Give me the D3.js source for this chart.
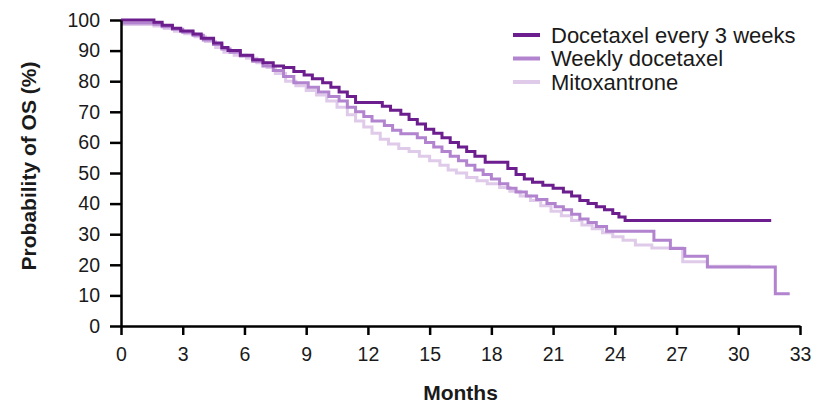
<!DOCTYPE html>
<html>
<head>
<meta charset="utf-8">
<script src="https://cdn.jsdelivr.net/npm/d3@7"></script>
<style>
  body { margin: 0; background: #fff; }
  svg text { font-family: "Liberation Sans", Arial, sans-serif; fill: #1a1a1a; }
</style>
</head>
<body>
<div id="chart"></div>
<script>
// Kaplan-Meier OS curves
// [month, % surviving] at each step
const q3w = [
  [0, 100], [1.6, 99.3], [2.0, 98.3], [2.5, 97.3], [2.9, 96.4], [3.5, 95.4], [3.9, 94],
  [4.5, 92.5], [4.9, 91], [5.2, 90], [5.8, 88.5], [6.4, 87], [6.9, 86], [7.4, 85],
  [7.9, 84.5], [8.4, 83.2], [8.9, 82], [9.3, 80.8], [9.8, 79.5], [10.2, 78], [10.6, 76.5],
  [11.0, 75], [11.4, 73], [12.7, 71.8], [13.1, 70.5], [13.6, 69.2], [14.0, 67.5],
  [14.4, 66], [14.8, 64.3], [15.2, 63], [15.6, 61.5], [16.0, 60], [16.4, 58.5],
  [16.8, 57], [17.2, 55.5], [17.7, 53.5], [18.8, 51.5], [19.2, 49.5], [19.6, 48],
  [20.0, 47], [20.5, 46], [21.0, 45], [21.5, 43.8], [21.9, 42.5], [22.3, 41], [22.7, 40],
  [23.1, 39], [23.5, 38], [23.9, 36.8], [24.2, 35.6], [24.5, 34.5], [31.6, 34.5]
];

const weekly = [
  [0, 99], [1.6, 98.6], [2.0, 97.8], [2.5, 97], [3.0, 96], [3.5, 95], [4.0, 93.5],
  [4.5, 92], [4.9, 90.5], [5.3, 89.5], [5.8, 88.2], [6.4, 86.5], [6.9, 85], [7.4, 83.5],
  [7.9, 81.5], [8.4, 79.5], [9.1, 78], [9.6, 76.5], [10.1, 75], [10.6, 73.5], [11.0, 71.5],
  [11.4, 70], [11.8, 68.5], [12.2, 67], [12.8, 65.5], [13.2, 64], [13.6, 62.8],
  [14.4, 61.5], [14.8, 60], [15.2, 58.5], [15.6, 57], [16.0, 55.5], [16.4, 54],
  [16.8, 52.5], [17.2, 51], [17.6, 49.5], [18.0, 48], [18.4, 46.5], [18.8, 45],
  [19.2, 43.8], [19.7, 42.5], [20.2, 41.3], [20.7, 40], [21.1, 39], [21.5, 38],
  [21.9, 36.5], [22.3, 35], [22.7, 33.8], [23.1, 32.5], [23.6, 31], [25.9, 28],
  [26.7, 25.3], [27.4, 22.8], [28.5, 19.3], [31.8, 10.5], [32.5, 10.5]
];

const mitox = [
  [0, 98.5], [1.6, 98], [2.1, 97.2], [2.6, 96.3], [3.1, 95.5], [3.6, 94.5], [4.1, 93],
  [4.6, 91], [5.0, 89.5], [5.5, 88.5], [6.1, 87.5], [6.6, 86], [7.1, 84.5], [7.5, 82.5],
  [8.0, 80], [8.5, 78.5], [9.0, 77], [9.5, 75.5], [10.0, 73.5], [10.5, 71.5], [11.0, 69],
  [11.4, 67], [11.8, 65], [12.2, 63], [12.6, 61], [13.0, 59.5], [13.5, 58], [14.0, 57],
  [14.5, 55.5], [15.0, 54], [15.5, 52.5], [15.9, 51], [16.3, 50], [16.8, 48.5],
  [17.3, 47.5], [17.8, 46.5], [18.4, 45.3], [18.9, 44], [19.4, 42.5], [19.9, 41],
  [20.4, 39.3], [20.9, 37.5], [21.4, 36], [21.9, 34.5], [22.4, 33], [22.9, 31.8],
  [23.4, 30.5], [23.9, 29.2], [24.4, 28], [25.0, 26.5], [25.8, 25.5], [27.3, 21],
  [28.5, 19.5], [30.6, 19.5]
];

const xTicks = [0, 3, 6, 9, 12, 15, 18, 21, 24, 27, 30, 33];
const yTicks = [0, 10, 20, 30, 40, 50, 60, 70, 80, 90, 100];
const seriesNames = ["Docetaxel every 3 weeks", "Weekly docetaxel", "Mitoxantrone"];
const seriesColors = ["#6c1d8e", "#b283cf", "#dfcaea"];

// Layout
var margin = { top: 20, right: 20, bottom: 82, left: 121 };
var W = 820, H = 408;
var width = W - margin.left - margin.right;
var height = H - margin.top - margin.bottom;

var svg = d3
  .select("#chart")
  .append("svg")
  .attr("width", W)
  .attr("height", H);

var g = svg
  .append("g")
  .attr("transform", "translate(" + margin.left + "," + margin.top + ")");

var x = d3.scaleLinear().domain([0, 33]).range([0, width]);
var y = d3.scaleLinear().domain([0, 100]).range([height, 0]);

// Curves (lightest underneath)
var line = d3
  .line()
  .curve(d3.curveStepAfter)
  .x(function (d) { return x(d[0]); })
  .y(function (d) { return y(d[1]); });

var allSeries = [q3w, weekly, mitox];
[2, 1, 0].forEach(function (i) {
  g.append("path")
    .datum(allSeries[i])
    .attr("fill", "none")
    .attr("stroke", seriesColors[i])
    .attr("stroke-width", 3)
    .attr("d", line);
});

// Axes
var xAxis = g
  .append("g")
  .attr("transform", "translate(0," + height + ")")
  .call(d3.axisBottom(x).tickValues(xTicks).tickSize(9).tickSizeOuter(0).tickPadding(12));

var yAxis = g
  .append("g")
  .call(d3.axisLeft(y).tickValues(yTicks).tickSize(11).tickSizeOuter(0).tickPadding(10));

[xAxis, yAxis].forEach(function (ax) {
  ax.select(".domain").attr("stroke", "#000").attr("stroke-width", 2.5);
  ax.selectAll(".tick line").attr("stroke", "#000").attr("stroke-width", 2.5);
  ax.selectAll(".tick text")
    .attr("fill", "#1a1a1a")
    .style("font-size", "19.5px")
    .style("font-family", '"Liberation Sans", Arial, sans-serif');
});

// Axis titles
svg
  .append("text")
  .attr("x", margin.left + width / 2)
  .attr("y", 400)
  .style("text-anchor", "middle")
  .style("font-size", "21px")
  .style("font-weight", "bold")
  .text("Months");

svg
  .append("text")
  .attr("transform", "translate(36,166) rotate(-90)")
  .style("text-anchor", "middle")
  .style("font-size", "21px")
  .style("font-weight", "bold")
  .text("Probability of OS (%)");

// Legend
var legend = svg.append("g").attr("transform", "translate(513,35)");
seriesNames.forEach(function (name, i) {
  var row = legend.append("g").attr("transform", "translate(0," + i * 23.5 + ")");
  row.append("line")
    .attr("x1", 0).attr("x2", 27)
    .attr("y1", 0).attr("y2", 0)
    .attr("stroke", seriesColors[i])
    .attr("stroke-width", 4);
  row.append("text")
    .attr("x", 38)
    .attr("y", 0)
    .attr("dy", "0.35em")
    .style("font-size", "22px")
    .text(name);
});
</script>
</body>
</html>
